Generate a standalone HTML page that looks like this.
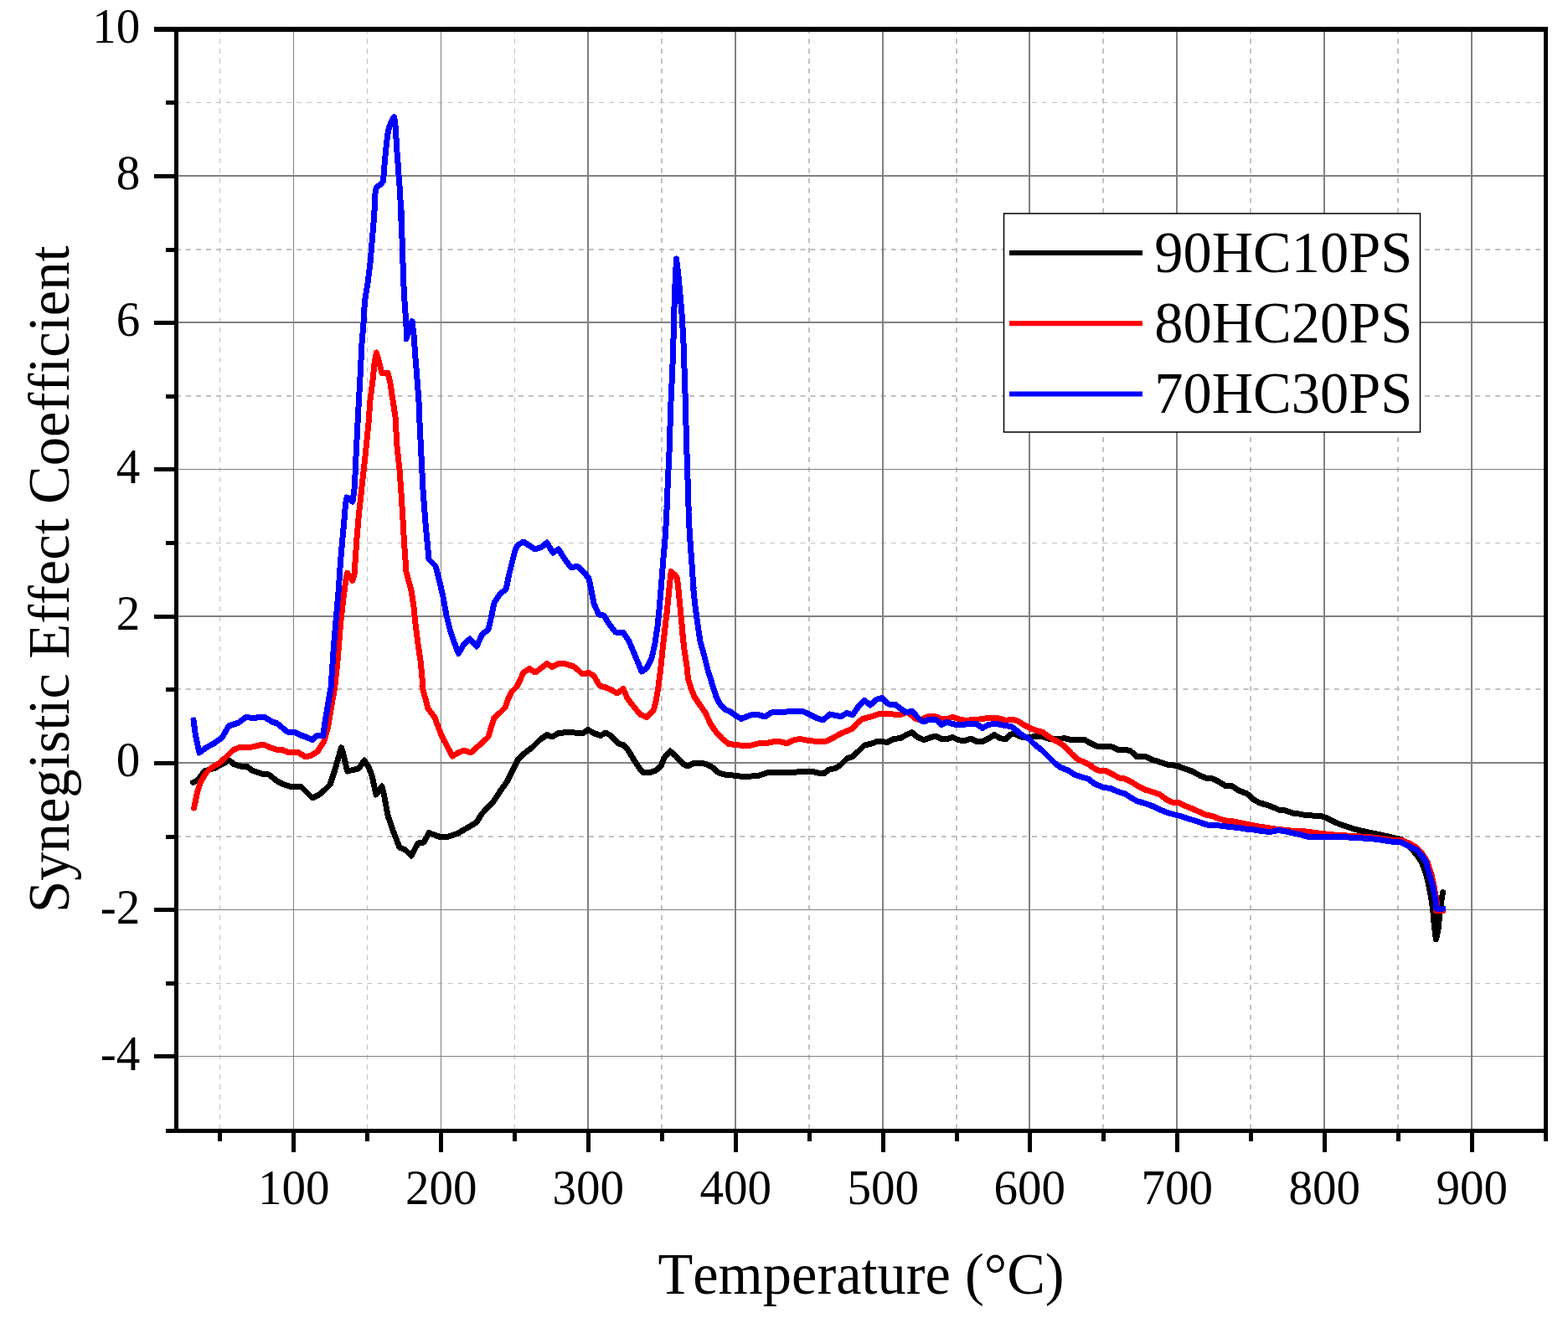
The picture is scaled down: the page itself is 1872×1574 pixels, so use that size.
<!DOCTYPE html>
<html lang="en">
<head>
<meta charset="utf-8">
<title>Synegistic Effect Coefficient vs Temperature</title>
<style>
html,body{margin:0;padding:0;background:#fff;}
body{width:1872px;height:1574px;overflow:hidden;}
svg{display:block;}
text{font-family:"Liberation Serif","Times New Roman",serif;fill:#000;font-variant-ligatures:none;font-kerning:none;}
.tk{font-size:59px;}
.ti{font-size:70.4px;}
</style>
</head>
<body>
<svg width="1872" height="1574" viewBox="0 0 1872 1574">
<rect x="0" y="0" width="1872" height="1574" fill="#fff"/>
<g id="grid-minor" stroke="#c0c0c0" fill="none">
<line x1="262.5" y1="34.3" x2="262.5" y2="1348" stroke-width="1" stroke-dasharray="5.95 5.945"/>
<line x1="438.5" y1="34.3" x2="438.5" y2="1348" stroke-width="1" stroke-dasharray="5.95 5.945"/>
<line x1="614.5" y1="34.3" x2="614.5" y2="1348" stroke-width="1" stroke-dasharray="5.95 5.945"/>
<line x1="790" y1="34.3" x2="790" y2="1348" stroke-width="2" stroke-dasharray="5.95 5.945"/>
<line x1="966" y1="34.3" x2="966" y2="1348" stroke-width="2" stroke-dasharray="5.95 5.945"/>
<line x1="1142" y1="34.3" x2="1142" y2="1348" stroke-width="2" stroke-dasharray="5.95 5.945"/>
<line x1="1317" y1="34.3" x2="1317" y2="1348" stroke-width="2" stroke-dasharray="5.95 5.945"/>
<line x1="1493" y1="34.3" x2="1493" y2="1348" stroke-width="2" stroke-dasharray="5.95 5.945"/>
<line x1="1669" y1="34.3" x2="1669" y2="1348" stroke-width="2" stroke-dasharray="5.95 5.945"/>
<line x1="209.9" y1="1174.5" x2="1843" y2="1174.5" stroke-width="1" stroke-dasharray="6 6.025"/>
<line x1="209.9" y1="999" x2="1843" y2="999" stroke-width="2" stroke-dasharray="6 6.025"/>
<line x1="209.9" y1="823" x2="1843" y2="823" stroke-width="2" stroke-dasharray="6 6.025"/>
<line x1="209.9" y1="648.5" x2="1843" y2="648.5" stroke-width="1" stroke-dasharray="6 6.025"/>
<line x1="209.9" y1="473" x2="1843" y2="473" stroke-width="2" stroke-dasharray="6 6.025"/>
<line x1="209.9" y1="298" x2="1843" y2="298" stroke-width="2" stroke-dasharray="6 6.025"/>
<line x1="209.9" y1="122.5" x2="1843" y2="122.5" stroke-width="1" stroke-dasharray="6 6.025"/>
</g>
<g id="grid-major" stroke="#808080" fill="none">
<line x1="350.5" y1="36" x2="350.5" y2="1349" stroke-width="1"/>
<line x1="526.5" y1="36" x2="526.5" y2="1349" stroke-width="1"/>
<line x1="702" y1="36" x2="702" y2="1349" stroke-width="2"/>
<line x1="878" y1="36" x2="878" y2="1349" stroke-width="2"/>
<line x1="1054" y1="36" x2="1054" y2="1349" stroke-width="2"/>
<line x1="1229" y1="36" x2="1229" y2="1349" stroke-width="2"/>
<line x1="1405" y1="36" x2="1405" y2="1349" stroke-width="2"/>
<line x1="1581" y1="36" x2="1581" y2="1349" stroke-width="2"/>
<line x1="1757" y1="36" x2="1757" y2="1349" stroke-width="2"/>
<line x1="211" y1="1261.5" x2="1844" y2="1261.5" stroke-width="1"/>
<line x1="211" y1="1086.5" x2="1844" y2="1086.5" stroke-width="1"/>
<line x1="211" y1="911" x2="1844" y2="911" stroke-width="2"/>
<line x1="211" y1="736" x2="1844" y2="736" stroke-width="2"/>
<line x1="211" y1="560.5" x2="1844" y2="560.5" stroke-width="1"/>
<line x1="211" y1="385" x2="1844" y2="385" stroke-width="2"/>
<line x1="211" y1="210" x2="1844" y2="210" stroke-width="2"/>
</g>
<g id="curves" fill="none" stroke-width="7" stroke-linejoin="round" stroke-linecap="round" shape-rendering="crispEdges">
<path d="M230.6,934.4 L236.0,932.0 L244.0,921.0 L257.0,917.0 L266.0,912.0 L273.4,908.0 L280.0,913.0 L287.0,915.0 L294.0,915.0 L301.0,920.0 L312.0,924.0 L321.0,925.0 L331.0,933.0 L337.0,936.0 L345.0,939.0 L351.0,939.6 L359.0,939.0 L365.0,945.0 L373.0,953.0 L381.0,949.0 L388.0,943.0 L394.0,937.0 L400.0,919.0 L404.0,905.0 L407.4,892.8 L410.0,901.0 L414.6,921.0 L419.0,920.0 L428.0,918.0 L435.0,908.0 L440.0,916.0 L444.0,926.0 L449.0,949.0 L456.0,939.0 L459.0,952.0 L463.0,974.0 L470.0,994.0 L477.0,1012.0 L484.0,1015.0 L491.0,1022.0 L499.0,1007.0 L506.0,1006.0 L512.0,994.6 L521.0,998.0 L527.0,1000.0 L536.0,999.0 L547.0,995.0 L559.0,988.0 L569.0,982.0 L575.0,972.0 L584.8,962.0 L590.0,956.0 L597.0,945.0 L605.0,934.0 L612.0,920.0 L619.0,906.0 L627.0,899.0 L635.0,893.0 L645.0,883.0 L653.0,877.6 L659.0,880.0 L667.0,875.4 L681.0,874.4 L695.0,876.0 L702.0,871.6 L710.0,876.0 L717.0,878.4 L723.0,875.0 L730.0,879.0 L738.0,888.0 L744.0,889.6 L750.0,896.0 L756.0,906.0 L763.0,917.0 L768.0,922.4 L775.0,923.0 L783.0,920.0 L789.0,915.0 L793.0,905.0 L800.0,897.0 L807.0,903.0 L815.0,912.0 L821.0,915.0 L828.0,911.6 L835.0,911.0 L843.0,912.4 L850.0,916.0 L858.0,923.0 L865.0,925.0 L875.0,926.0 L883.0,927.0 L893.0,927.4 L907.0,926.0 L915.0,923.0 L923.0,922.4 L931.0,923.0 L937.0,922.0 L939.0,922.0 L947.0,923.0 L955.0,921.0 L962.0,922.0 L969.0,921.0 L976.0,923.0 L983.0,924.0 L990.0,919.0 L997.0,917.6 L1003.0,914.0 L1011.0,906.0 L1018.0,903.6 L1025.0,897.0 L1032.0,890.0 L1041.0,888.0 L1048.0,885.0 L1059.0,886.4 L1067.0,882.4 L1075.0,881.6 L1082.0,877.6 L1088.6,874.6 L1095.0,880.0 L1103.0,883.6 L1110.0,881.0 L1117.0,879.0 L1124.0,882.4 L1131.0,882.4 L1137.0,880.4 L1144.0,883.6 L1151.0,885.0 L1159.0,882.0 L1166.0,885.6 L1172.0,886.0 L1180.0,882.0 L1187.0,877.6 L1194.0,881.6 L1201.0,883.0 L1205.0,878.0 L1210.0,876.0 L1219.0,880.0 L1227.0,881.0 L1235.0,879.6 L1243.0,879.0 L1251.0,882.0 L1261.0,883.0 L1271.0,881.6 L1279.0,883.6 L1287.0,884.0 L1294.0,883.0 L1301.0,887.0 L1307.0,890.0 L1311.0,891.6 L1321.0,891.0 L1328.0,892.0 L1336.0,896.0 L1343.0,895.0 L1350.0,897.0 L1357.0,903.6 L1369.0,904.0 L1376.0,907.6 L1385.0,910.0 L1393.0,913.0 L1405.0,914.4 L1413.0,917.6 L1423.0,921.0 L1433.0,926.4 L1441.0,929.6 L1448.0,930.0 L1455.0,933.6 L1463.0,938.4 L1470.0,938.4 L1479.0,944.0 L1489.0,948.0 L1496.0,954.4 L1503.0,958.4 L1513.0,961.6 L1521.0,964.4 L1528.0,967.6 L1535.0,968.0 L1543.0,971.0 L1551.0,972.0 L1559.0,973.6 L1567.0,974.0 L1575.0,974.0 L1583.0,976.4 L1592.0,981.0 L1600.0,984.6 L1616.0,989.9 L1632.1,993.7 L1648.1,996.9 L1664.1,1000.6 L1673.7,1002.7 L1682.8,1011.3 L1690.6,1019.8 L1697.0,1029.4 L1700.2,1036.9 L1702.9,1045.5 L1705.6,1056.2 L1707.7,1066.8 L1709.5,1077.5 L1710.9,1088.2 L1712.2,1104.2 L1713.5,1114.9 L1714.5,1121.9 L1717.0,1109.6 L1718.6,1093.5 L1720.5,1077.5 L1722.6,1065.6" stroke="#000000"/>
<path d="M231.6,965.0 L236.0,944.0 L240.0,933.0 L246.0,923.0 L252.0,917.0 L261.0,912.0 L269.0,905.0 L278.0,896.0 L286.0,892.4 L301.0,892.0 L314.0,889.0 L321.0,892.0 L329.0,895.0 L337.0,895.6 L344.0,898.4 L355.0,898.0 L365.0,904.0 L371.0,902.4 L379.0,897.6 L387.0,885.0 L391.6,868.0 L396.0,842.0 L399.8,820.0 L403.4,785.0 L406.6,745.0 L409.8,715.0 L412.6,695.0 L414.6,684.4 L420.8,693.4 L423.0,686.0 L424.2,669.0 L425.8,645.0 L428.2,617.0 L432.0,581.0 L436.0,545.0 L440.0,505.0 L442.0,478.0 L445.0,454.0 L447.0,434.0 L449.4,421.0 L453.0,434.0 L456.0,446.0 L463.0,445.0 L466.0,458.0 L469.0,478.0 L472.0,498.0 L474.0,533.0 L477.0,561.0 L479.0,589.0 L481.0,621.0 L482.6,649.0 L485.0,683.0 L491.0,705.0 L494.0,725.0 L496.0,745.0 L499.0,769.0 L502.0,789.0 L505.0,819.8 L504.0,820.0 L511.0,846.0 L519.0,857.0 L527.0,878.0 L540.0,903.0 L547.0,899.0 L554.0,896.0 L562.0,899.0 L571.0,891.0 L581.0,882.0 L583.0,880.0 L586.0,870.0 L590.0,857.0 L597.0,851.0 L603.0,845.0 L607.0,834.0 L611.0,826.0 L617.0,820.0 L621.0,812.0 L625.0,803.0 L632.0,798.6 L639.0,803.0 L646.0,798.0 L653.0,792.4 L659.0,796.4 L667.0,792.4 L674.0,792.4 L685.0,796.0 L691.0,801.0 L695.0,805.0 L703.0,803.6 L709.0,807.0 L716.0,819.0 L723.0,821.0 L730.0,824.0 L737.0,828.0 L744.0,822.4 L749.0,834.0 L756.0,843.0 L764.0,853.0 L772.0,856.4 L780.0,849.0 L783.0,838.0 L786.0,820.0 L788.6,800.0 L791.0,776.0 L794.0,750.0 L796.4,728.9 L798.0,712.9 L799.6,696.8 L800.7,686.2 L801.2,682.7 L805.5,686.2 L808.1,689.4 L809.2,696.8 L810.3,707.5 L811.3,718.2 L812.4,728.9 L813.5,739.6 L815.1,757.9 L814.0,750.0 L817.0,776.0 L820.0,796.0 L821.4,810.0 L825.0,822.0 L829.0,832.0 L835.0,841.0 L842.0,851.0 L848.0,864.0 L854.0,873.0 L862.0,882.0 L870.0,888.4 L879.0,889.6 L887.0,890.4 L897.0,890.0 L905.0,888.0 L915.0,887.6 L927.0,885.0 L935.0,886.4 L939.0,888.0 L947.0,884.0 L955.0,882.4 L963.0,884.0 L971.0,885.0 L979.0,886.0 L987.0,885.0 L995.0,881.0 L1003.0,876.4 L1011.0,873.0 L1018.0,870.0 L1023.0,864.0 L1029.0,859.0 L1035.0,857.0 L1041.0,855.6 L1048.0,853.0 L1055.0,852.0 L1063.0,852.4 L1069.0,853.6 L1077.0,853.0 L1083.0,850.4 L1093.0,858.0 L1099.0,860.0 L1105.0,857.0 L1111.0,855.0 L1118.0,856.0 L1125.0,859.0 L1132.0,858.0 L1138.0,856.4 L1145.0,859.0 L1153.0,860.4 L1161.0,859.6 L1169.0,859.0 L1179.0,857.6 L1191.0,857.6 L1201.0,860.4 L1208.0,859.0 L1216.0,861.6 L1223.0,866.0 L1231.0,870.0 L1237.0,872.4 L1244.0,874.0 L1251.0,879.0 L1259.0,884.0 L1265.0,887.0 L1272.0,892.0 L1279.0,900.0 L1287.0,907.0 L1295.0,910.4 L1303.0,914.4 L1303.0,915.6 L1311.0,920.0 L1320.0,920.4 L1328.0,924.4 L1336.0,929.0 L1343.0,930.0 L1351.0,934.0 L1359.0,939.0 L1367.0,943.0 L1375.0,945.6 L1384.0,948.4 L1392.0,954.4 L1399.0,958.0 L1407.0,958.4 L1415.0,962.4 L1423.0,965.6 L1432.0,969.6 L1439.0,973.0 L1447.0,974.4 L1455.0,977.6 L1463.0,980.0 L1473.0,981.0 L1483.0,983.0 L1493.0,985.0 L1503.0,987.0 L1513.0,988.6 L1523.0,990.0 L1533.0,991.2 L1543.0,992.2 L1553.0,992.4 L1561.0,993.2 L1569.0,994.4 L1579.0,995.6 L1593.0,997.0 L1600.0,997.6 L1621.4,998.7 L1642.7,1000.4 L1659.8,1002.9 L1674.8,1004.0 L1683.3,1007.5 L1690.8,1012.0 L1698.3,1020.1 L1704.2,1029.4 L1706.3,1036.9 L1709.2,1045.5 L1711.6,1056.2 L1713.5,1066.8 L1715.4,1077.5 L1716.2,1086.1 L1714.3,1088.0 L1722.9,1087.7" stroke="#ff0000"/>
<path d="M231.0,860.0 L233.4,878.0 L238.0,899.0 L246.0,893.0 L255.0,888.0 L265.0,881.0 L273.0,867.0 L285.0,863.0 L294.0,856.0 L302.0,858.0 L311.0,856.0 L315.0,856.0 L325.0,862.0 L331.0,864.0 L343.0,874.0 L351.0,874.0 L359.0,878.0 L365.0,880.0 L373.0,883.6 L379.0,878.0 L386.0,878.4 L387.4,866.0 L395.2,819.8 L398.2,775.0 L401.2,739.0 L404.2,705.0 L406.2,675.0 L408.4,649.0 L411.0,621.0 L412.6,601.0 L414.0,594.0 L421.0,599.0 L423.4,581.0 L425.0,545.0 L427.0,505.0 L430.0,450.0 L432.0,410.0 L434.0,386.0 L435.4,360.0 L439.0,338.0 L442.0,314.0 L444.0,290.0 L446.0,266.0 L447.4,246.0 L447.3,238.2 L448.4,227.5 L449.7,223.2 L454.8,220.0 L457.7,215.8 L458.2,206.2 L459.6,190.1 L461.2,174.1 L462.8,160.2 L464.4,152.7 L467.1,145.8 L469.5,141.2 L470.6,139.6 L472.4,152.7 L472.9,163.4 L473.8,179.4 L475.1,195.5 L476.2,211.5 L477.4,227.5 L478.3,243.5 L478.8,259.6 L479.6,277.9 L479.0,250.0 L479.4,270.0 L480.6,298.0 L481.4,330.0 L482.6,354.0 L484.0,374.0 L485.0,390.0 L485.0,405.0 L489.0,392.0 L492.0,383.6 L494.0,400.0 L495.4,420.0 L497.0,440.0 L498.6,460.0 L500.0,480.0 L501.0,504.8 L503.0,545.0 L505.0,585.0 L508.0,625.0 L511.0,657.0 L512.0,668.0 L520.0,676.0 L524.0,691.0 L529.0,713.0 L533.0,735.0 L538.0,755.0 L543.0,769.0 L547.4,780.6 L554.0,769.0 L561.0,763.0 L569.0,772.0 L576.0,757.0 L583.0,752.0 L586.0,739.0 L590.0,720.0 L597.0,709.0 L604.0,704.0 L608.0,685.0 L611.0,673.0 L615.0,657.0 L618.0,651.0 L625.0,647.0 L631.0,651.0 L639.0,656.0 L647.0,653.0 L653.0,648.0 L660.0,660.0 L667.0,656.0 L675.0,669.0 L682.0,678.0 L689.0,676.0 L697.0,683.0 L703.0,691.0 L706.0,705.0 L709.0,721.0 L715.0,734.0 L721.0,735.0 L727.0,745.0 L734.8,755.0 L744.0,755.0 L751.0,766.0 L757.0,780.0 L762.0,792.0 L766.0,802.0 L772.0,798.0 L778.0,786.0 L782.0,768.0 L785.0,748.0 L787.4,724.0 L789.4,700.0 L792.1,664.8 L793.7,648.8 L794.8,632.7 L795.9,611.4 L796.7,590.0 L796.0,604.8 L797.6,570.0 L799.0,540.0 L800.0,510.0 L801.0,480.0 L802.4,450.0 L803.6,420.0 L804.4,390.0 L805.2,360.0 L806.4,330.0 L807.6,309.0 L810.0,330.0 L812.4,356.0 L814.4,380.0 L816.0,410.0 L817.0,440.0 L818.0,470.0 L818.8,500.0 L819.6,530.0 L820.6,560.0 L821.6,590.0 L822.0,604.8 L822.0,611.4 L823.1,632.7 L824.5,654.1 L825.8,670.1 L826.8,686.2 L828.1,702.2 L827.4,700.0 L830.0,724.0 L833.0,746.0 L836.0,766.0 L841.0,784.0 L845.0,800.0 L850.0,816.0 L855.0,832.0 L859.0,840.0 L865.0,847.0 L872.0,850.0 L879.0,855.0 L885.0,858.4 L892.0,855.6 L900.0,853.0 L907.0,854.0 L913.0,856.0 L921.0,851.0 L929.0,850.0 L939.0,850.0 L939.0,850.0 L949.0,849.0 L957.0,849.0 L965.0,852.4 L974.0,857.0 L982.6,860.0 L990.6,853.0 L997.0,854.4 L1004.0,855.6 L1011.0,851.6 L1018.0,853.6 L1025.0,843.6 L1032.0,836.6 L1039.0,842.0 L1047.0,835.0 L1053.0,833.6 L1061.0,841.0 L1069.0,841.6 L1077.0,847.6 L1082.0,851.0 L1089.0,849.0 L1094.0,855.0 L1099.0,860.0 L1103.0,862.0 L1109.0,859.0 L1117.0,859.0 L1124.0,865.6 L1130.0,862.4 L1139.0,865.0 L1147.0,866.0 L1156.0,864.4 L1165.0,864.0 L1173.0,869.4 L1180.0,865.6 L1188.0,864.0 L1197.0,866.0 L1207.0,867.6 L1212.0,871.0 L1219.0,877.0 L1228.0,882.0 L1235.0,889.0 L1243.0,895.0 L1251.0,903.0 L1259.0,911.0 L1266.0,916.4 L1275.0,920.0 L1283.0,925.0 L1291.0,928.0 L1299.0,930.0 L1307.0,936.0 L1310.0,937.6 L1318.0,940.4 L1326.0,941.6 L1335.0,945.6 L1343.0,948.0 L1350.0,952.4 L1357.0,956.4 L1367.0,959.6 L1377.0,963.0 L1385.0,967.0 L1395.0,971.0 L1403.0,973.0 L1411.0,975.0 L1419.0,978.0 L1427.0,980.0 L1435.0,983.0 L1441.0,985.0 L1451.0,985.4 L1459.0,986.4 L1469.0,987.6 L1479.0,988.6 L1487.0,990.0 L1495.0,990.6 L1503.0,992.0 L1511.0,993.0 L1519.0,993.0 L1525.0,991.6 L1533.0,992.4 L1541.0,994.4 L1551.0,996.4 L1560.0,999.0 L1571.0,999.0 L1583.0,999.0 L1600.0,999.5 L1621.4,1000.6 L1642.7,1002.2 L1659.8,1004.9 L1672.6,1005.9 L1681.2,1010.2 L1691.9,1015.6 L1698.3,1023.0 L1702.6,1029.4 L1704.2,1036.9 L1706.8,1045.5 L1710.0,1056.2 L1712.2,1066.8 L1714.3,1077.5 L1714.9,1085.0 L1722.9,1085.0" stroke="#0000ff"/>
</g>
<g id="legend">
<rect x="1198.5" y="255" width="497" height="261" fill="#fff" stroke="#000" stroke-width="1.5"/>
<line x1="1205" y1="302.0" x2="1364" y2="302.0" stroke="#000000" stroke-width="6"/>
<text class="ti" transform="translate(1378.3,324.9) scale(0.972,1)">90HC10PS</text>
<line x1="1205" y1="386.2" x2="1364" y2="386.2" stroke="#ff0000" stroke-width="6"/>
<text class="ti" transform="translate(1378.3,409.1) scale(0.972,1)">80HC20PS</text>
<line x1="1205" y1="470.4" x2="1364" y2="470.4" stroke="#0000ff" stroke-width="6"/>
<text class="ti" transform="translate(1378.3,493.3) scale(0.972,1)">70HC30PS</text>
</g>
<g id="axes" fill="#000" shape-rendering="crispEdges">
<rect x="208" y="32" width="5" height="1321"/>
<rect x="1843" y="32" width="5" height="1321"/>
<rect x="208" y="32" width="1640" height="6"/>
<rect x="208" y="1348" width="1640" height="5"/>
<rect x="260" y="1353" width="5" height="10"/>
<rect x="348" y="1353" width="5" height="23"/>
<rect x="436" y="1353" width="5" height="10"/>
<rect x="524" y="1353" width="5" height="23"/>
<rect x="612" y="1353" width="5" height="10"/>
<rect x="700" y="1353" width="5" height="23"/>
<rect x="788" y="1353" width="5" height="10"/>
<rect x="876" y="1353" width="5" height="23"/>
<rect x="964" y="1353" width="5" height="10"/>
<rect x="1052" y="1353" width="5" height="23"/>
<rect x="1140" y="1353" width="5" height="10"/>
<rect x="1227" y="1353" width="5" height="23"/>
<rect x="1315" y="1353" width="5" height="10"/>
<rect x="1403" y="1353" width="5" height="23"/>
<rect x="1491" y="1353" width="5" height="10"/>
<rect x="1579" y="1353" width="5" height="23"/>
<rect x="1667" y="1353" width="5" height="10"/>
<rect x="1755" y="1353" width="5" height="23"/>
<rect x="1843" y="1353" width="5" height="10"/>
<rect x="184" y="1259" width="24" height="5"/>
<rect x="198" y="1172" width="10" height="5"/>
<rect x="184" y="1084" width="24" height="5"/>
<rect x="198" y="997" width="10" height="5"/>
<rect x="184" y="909" width="24" height="5"/>
<rect x="198" y="821" width="10" height="5"/>
<rect x="184" y="734" width="24" height="5"/>
<rect x="198" y="646" width="10" height="5"/>
<rect x="184" y="558" width="24" height="5"/>
<rect x="198" y="471" width="10" height="5"/>
<rect x="184" y="383" width="24" height="5"/>
<rect x="198" y="296" width="10" height="5"/>
<rect x="184" y="208" width="24" height="5"/>
<rect x="198" y="120" width="10" height="5"/>
<rect x="184" y="32" width="24" height="6"/>
<rect x="198" y="1348" width="10" height="5"/>
</g>
<g id="ticklabels">
<text class="tk" transform="translate(350.8,1437.6) scale(0.967,1)" text-anchor="middle">100</text>
<text class="tk" transform="translate(526.8,1437.6) scale(0.967,1)" text-anchor="middle">200</text>
<text class="tk" transform="translate(702.3,1437.6) scale(0.967,1)" text-anchor="middle">300</text>
<text class="tk" transform="translate(878.3,1437.6) scale(0.967,1)" text-anchor="middle">400</text>
<text class="tk" transform="translate(1054.3,1437.6) scale(0.967,1)" text-anchor="middle">500</text>
<text class="tk" transform="translate(1229.3,1437.6) scale(0.967,1)" text-anchor="middle">600</text>
<text class="tk" transform="translate(1405.3,1437.6) scale(0.967,1)" text-anchor="middle">700</text>
<text class="tk" transform="translate(1581.3,1437.6) scale(0.967,1)" text-anchor="middle">800</text>
<text class="tk" transform="translate(1757.3,1437.6) scale(0.967,1)" text-anchor="middle">900</text>
<text class="tk" transform="translate(167.3,1277.9) scale(0.967,1)" text-anchor="end">-4</text>
<text class="tk" transform="translate(167.3,1102.9) scale(0.967,1)" text-anchor="end">-2</text>
<text class="tk" transform="translate(167.3,927.4) scale(0.967,1)" text-anchor="end">0</text>
<text class="tk" transform="translate(167.3,752.4) scale(0.967,1)" text-anchor="end">2</text>
<text class="tk" transform="translate(167.3,576.9) scale(0.967,1)" text-anchor="end">4</text>
<text class="tk" transform="translate(167.3,401.4) scale(0.967,1)" text-anchor="end">6</text>
<text class="tk" transform="translate(167.3,226.4) scale(0.967,1)" text-anchor="end">8</text>
<text class="tk" transform="translate(167.3,51.4) scale(0.967,1)" text-anchor="end">10</text>
</g>
<text class="ti" transform="translate(1028,1544.8) scale(0.972,1)" text-anchor="middle">Temperature (°C)</text>
<text class="ti" transform="translate(81.7,691.6) rotate(-90) scale(0.975,1)" text-anchor="middle">Synegistic Effect Coefficient</text>
</svg>
</body>
</html>
